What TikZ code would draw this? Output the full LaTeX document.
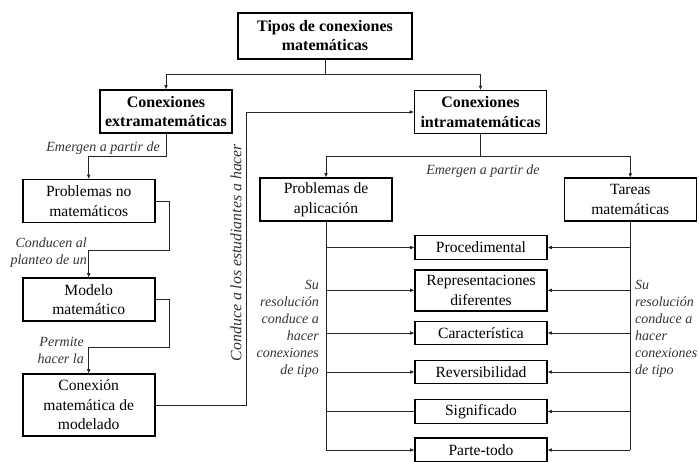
\documentclass[tikz,border=0pt]{standalone}
\usepackage{fontspec}
\setmainfont{Liberation Serif}
\usetikzlibrary{arrows.meta}
\begin{document}
\begin{tikzpicture}[x=1pt,y=-1pt,
  box/.style={draw, line width=1.6pt, align=center, inner sep=0pt, minimum width=132pt,
    font=\fontsize{15.6}{19.5}\selectfont},
  bbox/.style={box, font=\bfseries\fontsize{16}{19.5}\selectfont},
  conn/.style={draw=black!85, line width=0.8pt},
  arr/.style={conn, -{Triangle[length=4pt,width=3.2pt]}},
  lbl/.style={inner sep=0pt, text=black!80, font=\itshape\fontsize{14}{17}\selectfont}]
\useasboundingbox (0,0) rectangle (699,461);
% boxes
\node[bbox, minimum width=174pt, minimum height=46pt] (top) at (325,35.7) {Tipos de conexiones\\matemáticas};
\node[bbox, minimum height=43pt] (extra) at (166,111.5) {Conexiones\\extramatemáticas};
\node[bbox, minimum height=43pt] (intra) at (480.5,112) {Conexiones\\intramatemáticas};
\node[box, minimum height=43pt] (probno) at (88.7,201) {Problemas no\\matemáticos};
\node[box, minimum height=43pt] (modelo) at (88.7,299.5) {Modelo\\matemático};
\node[box, minimum height=62pt] (conmod) at (88.7,405) {Conexión\\matemática de\\modelado};
\node[box, minimum height=43pt] (probap) at (326,199.5) {Problemas de\\aplicación};
\node[box, minimum height=43pt] (tareas) at (630.3,199.6) {Tareas\\matemáticas};
\node[box, minimum height=24pt] (proc) at (481,247.5) {Procedimental};
\node[box, minimum height=41pt] (rep) at (481,290.3) {Representaciones\\diferentes};
\node[box, minimum height=23pt] (car) at (481,333) {Característica};
\node[box, minimum height=23pt] (rev) at (481,372) {Reversibilidad};
\node[box, minimum height=24pt] (sig) at (481,411.5) {Significado};
\node[box, minimum height=24pt] (parte) at (481,450) {Parte-todo};
% connectors, top
\draw[conn] (top.south) -- ++(0,14.5) coordinate (j1);
\draw[arr] (j1) -| (extra.north);
\draw[arr] (j1) -| (intra.north);
% left chain
\draw[arr] (extra.south) -- ++(0,22.7) -| (probno.north);
\draw[arr] (probno.east) -| ++(13.6,49.7) -| (modelo.north);
\draw[arr] (modelo.east) -| ++(13.6,48) -| (conmod.north);
\draw[arr] (conmod.east) -- ++(91,0) |- (intra.west);
% intra
\draw[conn] (intra.south) -- ++(0,22) coordinate (j2);
\draw[arr] (j2) -| (probap.north);
\draw[arr] (j2) -| (tareas.north);
\draw[conn] (probap.south) -- (parte.west -| probap.south);
\draw[conn] (tareas.south) -- (parte.east -| tareas.south);
\foreach \n in {proc,rep,car,rev,parte}{
  \draw[arr] (\n.west -| probap.south) -- (\n.west);
}
\draw[conn] (sig.west -| probap.south) -- (sig.west);
\foreach \n in {proc,rep,car,rev,sig,parte}{
  \draw[arr] (\n.east -| tareas.south) -- (\n.east);
}
% labels
\node[lbl, anchor=east] (l1) at (160,148) {Emergen a partir de};
\node[lbl, anchor=east, align=right] (l2) at (87,253) {Conducen al\\planteo de un};
\node[lbl, anchor=east, align=right] (l3) at (84,350.5) {Permite\\hacer la};
\node[lbl, rotate=90, font=\itshape\fontsize{15.8}{18}\selectfont] (l4) at (236,252.5) {Conduce a los estudiantes a hacer};
\node[lbl] (l5) at (483,170.7) {Emergen a partir de};
\node[lbl, anchor=east, align=right] (l6) at (319,329.2) {Su\\resolución\\conduce a\\hacer\\conexiones\\de tipo};
\node[lbl, anchor=west, align=left] (l7) at (635,329.2) {Su\\resolución\\conduce a\\hacer\\conexiones\\de tipo};
\end{tikzpicture}
\end{document}
